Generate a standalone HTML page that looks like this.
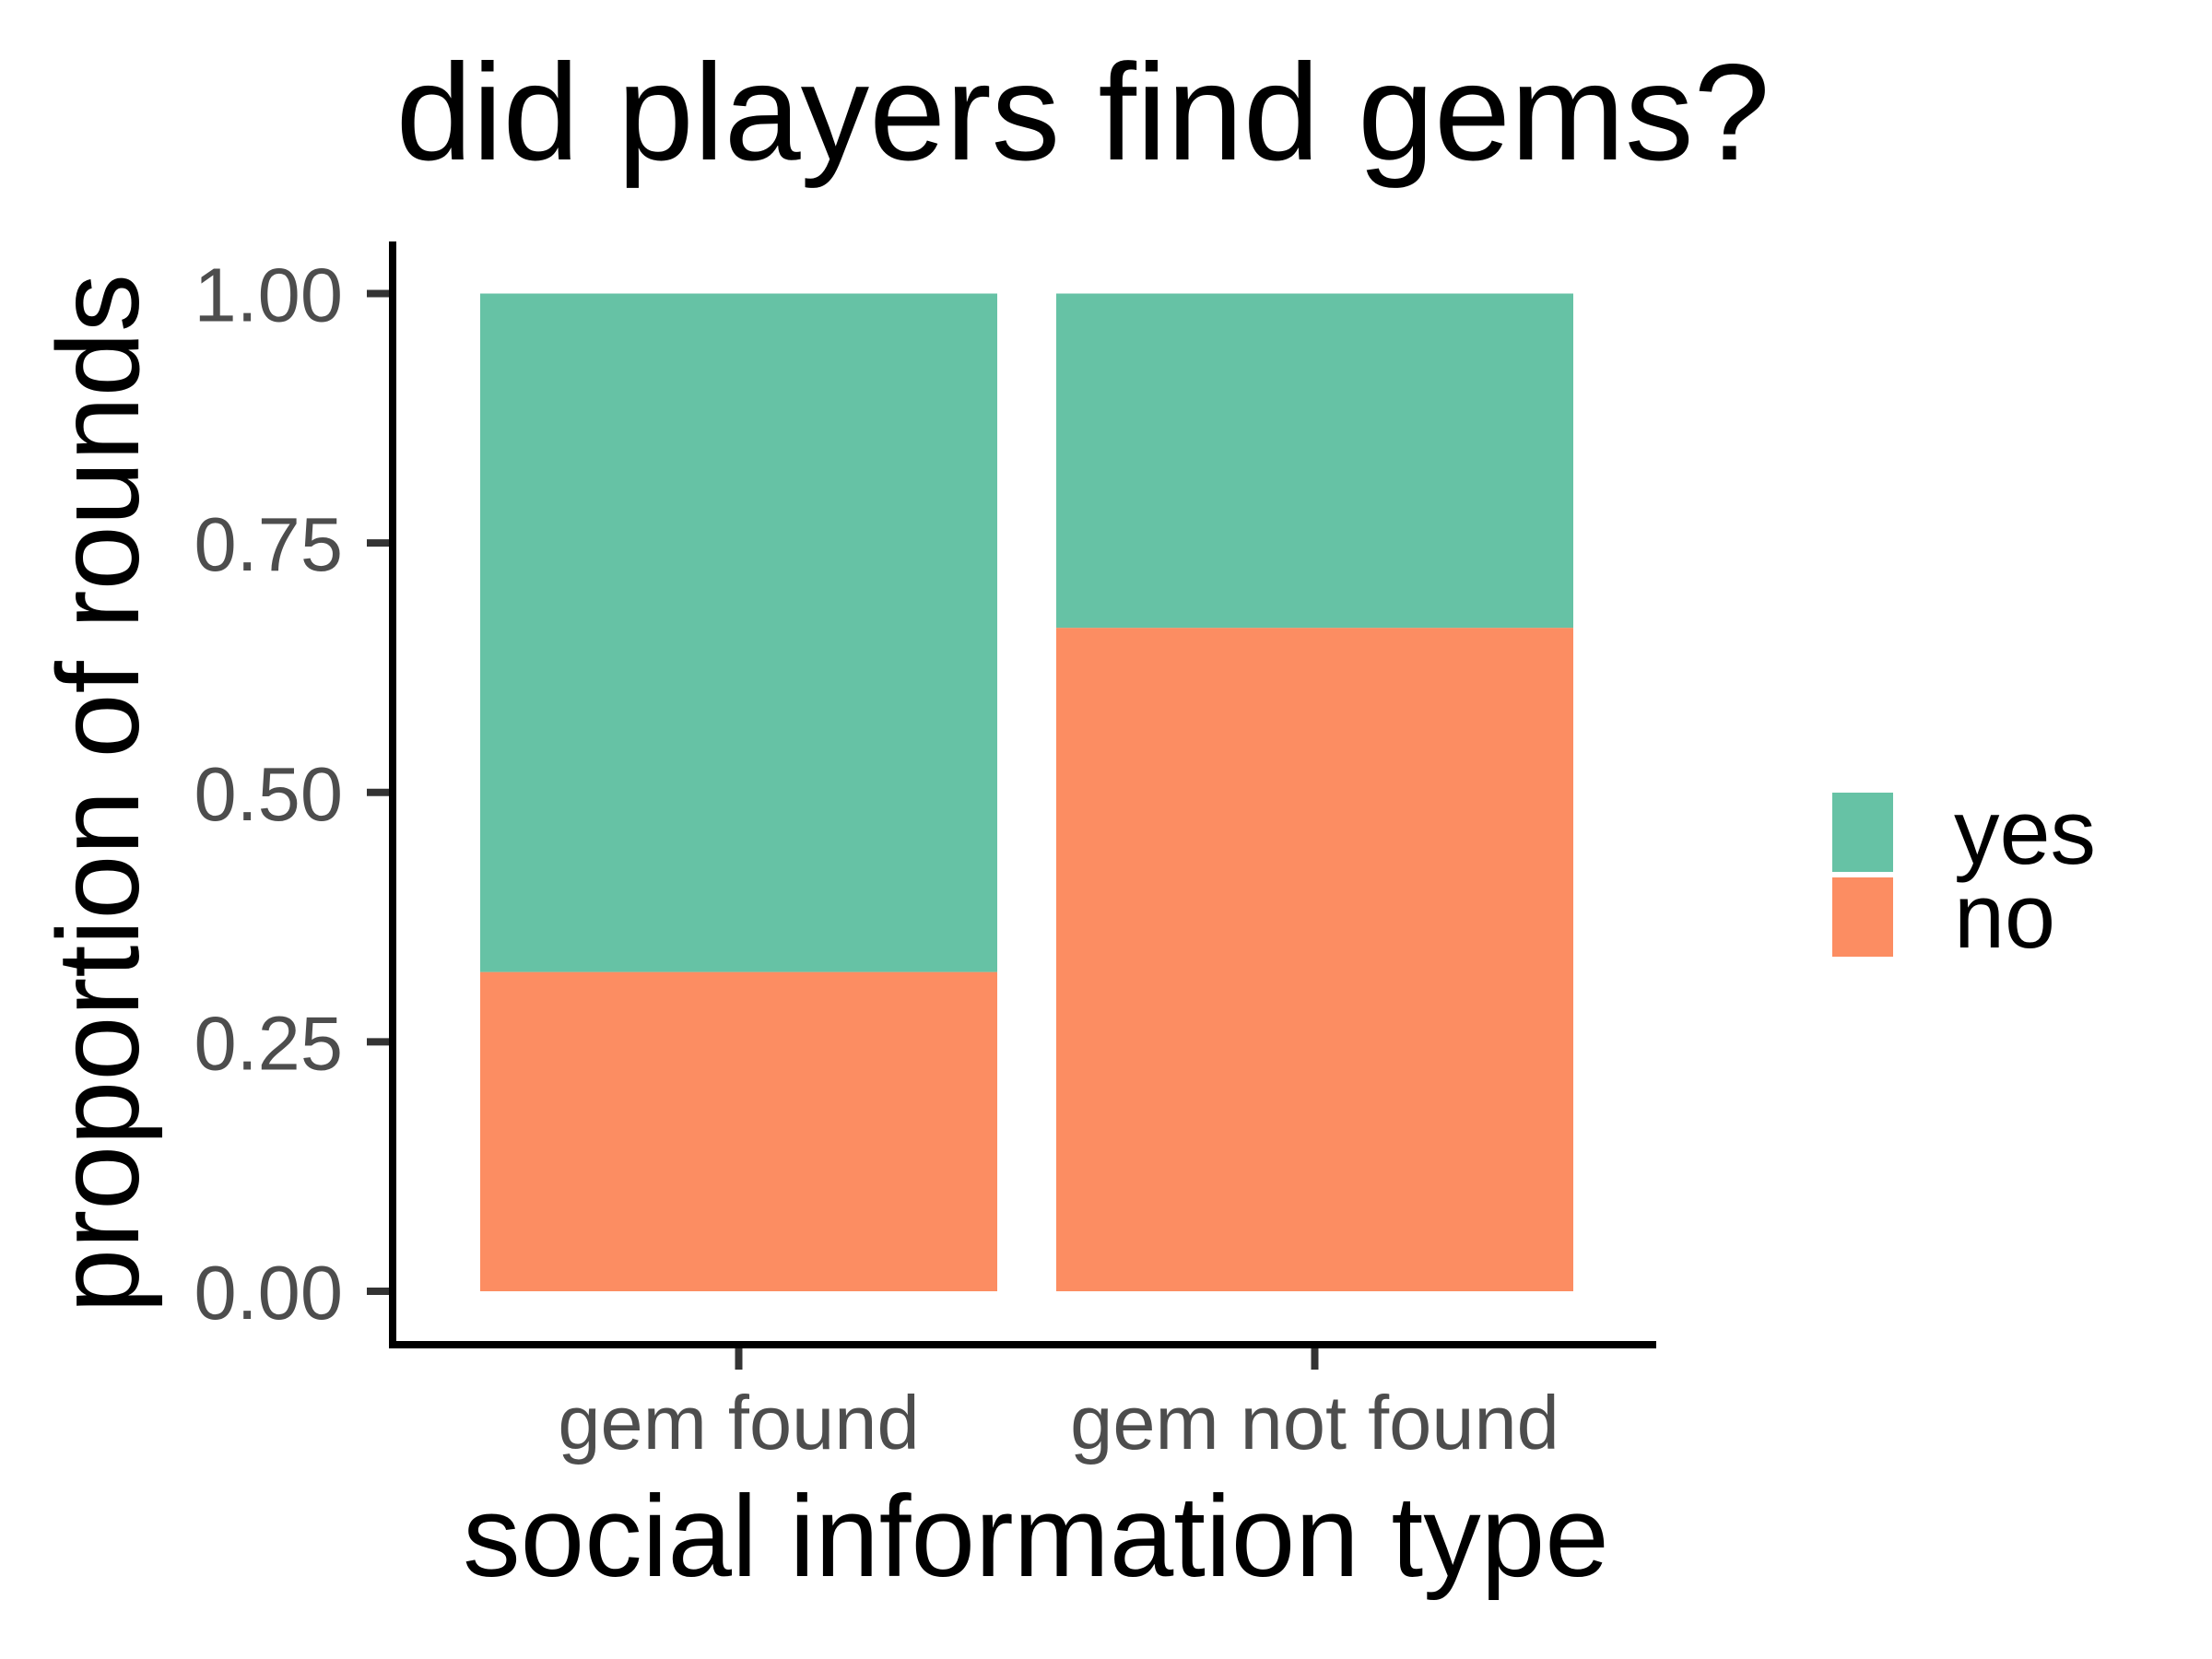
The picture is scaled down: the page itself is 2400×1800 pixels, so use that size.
<!DOCTYPE html>
<html><head><meta charset="utf-8"><style>
html,body{margin:0;padding:0;background:#fff}
svg{display:block}
text{font-family:"Liberation Sans",Arial,sans-serif}
</style></head><body>
<svg id="chart" width="2400" height="1800" viewBox="0 0 2400 1800" xmlns="http://www.w3.org/2000/svg">
<rect width="2400" height="1800" fill="#fff"/>
<text x="1175" y="173" font-size="149" text-anchor="middle" fill="#000">did players find gems?</text>
<g id="bars"></g>
<g id="axes"></g>
<text x="1124" y="1710" font-size="125" text-anchor="middle" fill="#000">social information type</text>
<text x="0" y="0" font-size="126" text-anchor="middle" fill="#000" transform="translate(150,861) rotate(-90)">proportion of rounds</text>
<g>
<rect x="1988" y="860" width="66" height="86" fill="#66c2a5"/>
<rect x="1988" y="952" width="66" height="86" fill="#fc8d62"/>
<text x="2120" y="937" font-size="99" fill="#000">yes</text>
<text x="2120" y="1028" font-size="99" fill="#000">no</text>
</g>
</svg>
<script>
const categories = ["gem found", "gem not found"];
const noValues = [0.32, 0.665];
const yesValues = [0.68, 0.335];
const yTicks = [0, 0.25, 0.5, 0.75, 1];
const yTickLabels = ["0.00", "0.25", "0.50", "0.75", "1.00"];

const NS = "http://www.w3.org/2000/svg";
const y = v => 1401 - v * (1401 - 318.5);
const xCenter = i => 801.5 + i * 625;
const barW = 561;
function mk(tag, attrs, parent) {
  const e = document.createElementNS(NS, tag);
  for (const k in attrs) e.setAttribute(k, attrs[k]);
  parent.appendChild(e);
  return e;
}
const bars = document.getElementById('bars');
const axes = document.getElementById('axes');
categories.forEach((c, i) => {
  const x0 = xCenter(i) - barW / 2;
  const rn = mk('rect', {x: x0, y: y(noValues[i]), width: barW, height: y(0) - y(noValues[i]), fill: '#fc8d62'}, bars);
  
  
  const top = noValues[i] + yesValues[i];
  const ry = mk('rect', {x: x0, y: y(top), width: barW, height: y(noValues[i]) - y(top), fill: '#66c2a5'}, bars);
  
  
  const t = mk('line', {x1: xCenter(i), x2: xCenter(i), y1: 1459, y2: 1486, stroke: '#333', 'stroke-width': 8}, axes);
  
  
  const l = mk('text', {x: xCenter(i), y: 1572, 'font-size': 83, 'text-anchor': 'middle', fill: '#4d4d4d'}, axes);
  l.textContent = c;
  
  
});
yTicks.forEach((v, i) => {
  const t = mk('line', {x1: 398, x2: 426, y1: y(v), y2: y(v), stroke: '#333', 'stroke-width': 8}, axes);
  
  
  const l = mk('text', {x: 372, y: y(v) + 30, 'font-size': 83, 'text-anchor': 'end', fill: '#4d4d4d'}, axes);
  l.textContent = yTickLabels[i];
  
  
});
const ya = mk('line', {x1: 426, x2: 426, y1: 262, y2: 1463, stroke: '#000', 'stroke-width': 8}, axes);


const xa = mk('line', {x1: 422, x2: 1797, y1: 1459, y2: 1459, stroke: '#000', 'stroke-width': 8}, axes);


</script>
</body></html>
